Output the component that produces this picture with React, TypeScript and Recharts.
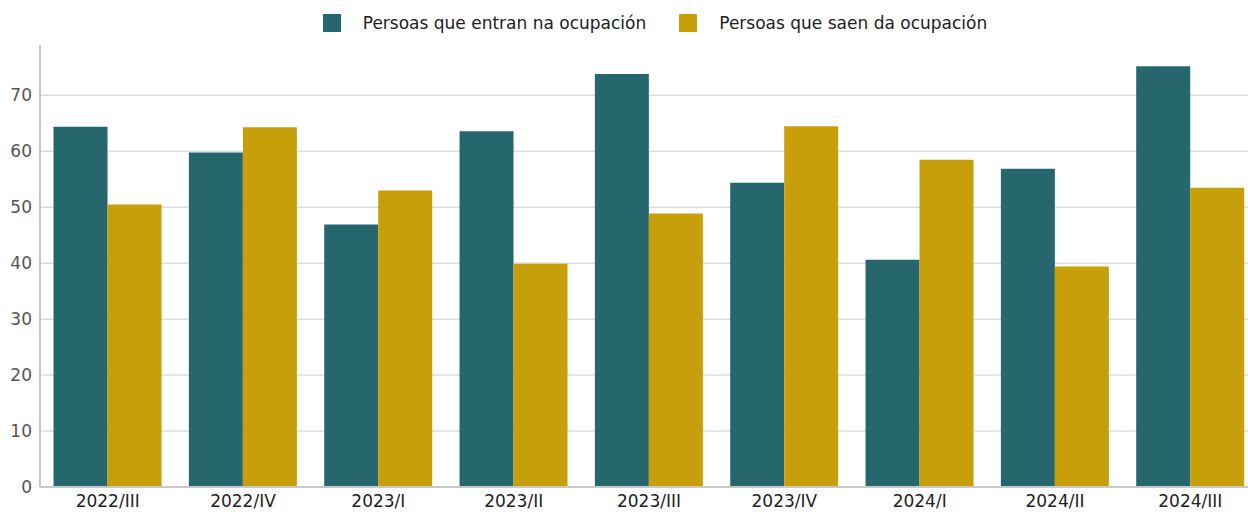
import React from "react";
import { BarChart, Bar, XAxis, YAxis, CartesianGrid, Legend } from "recharts";

const categories = ["2022/III", "2022/IV", "2023/I", "2023/II", "2023/III", "2023/IV", "2024/I", "2024/II", "2024/III"];
const entran = [64.4, 59.8, 46.9, 63.6, 73.8, 54.4, 40.6, 56.9, 75.2];
const saen = [50.5, 64.3, 53.0, 39.9, 48.9, 64.5, 58.5, 39.4, 53.5];
const yTicks = [0, 10, 20, 30, 40, 50, 60, 70];
const gridValues = [10, 20, 30, 40, 50, 60, 70];
const seriesNames = ["Persoas que entran na ocupación", "Persoas que saen da ocupación"];
const colors = ["#26676D", "#C69F0B"];

const data = categories.map((c, i) => ({ name: c, entran: entran[i], saen: saen[i] }));

const LegendContent = () => (
  <div
    style={{
      display: "flex",
      justifyContent: "center",
      alignItems: "center",
      paddingLeft: 44,
      fontFamily: "DejaVu Sans",
      fontSize: 17,
      color: "#222",
      height: 30,
    }}
  >
    {seriesNames.map((n, i) => (
      <div key={n} style={{ display: "flex", alignItems: "center", marginRight: i === 0 ? 33 : 0 }}>
        <div style={{ width: 18, height: 18, background: colors[i], marginRight: 22 }} />
        <span>{n}</span>
      </div>
    ))}
  </div>
);

export default function App() {
  return (
    <div
      style={{
        position: "fixed",
        top: 0,
        left: 0,
        width: 1248,
        height: 512,
        overflow: "hidden",
        background: "#fff",
      }}
    >
      <div style={{ position: "absolute", top: 8, left: 8 }}>
        <BarChart
          width={1250}
          height={504}
          data={data}
          margin={{ top: 0, right: 0, bottom: 0, left: 0 }}
          barCategoryGap="10%"
          barGap={0}
          style={{ fontFamily: "DejaVu Sans" }}
        >
          <Legend verticalAlign="top" height={37} content={<LegendContent />} wrapperStyle={{ top: 0 }} />
          <CartesianGrid vertical={false} horizontalValues={gridValues} stroke="#dddddd" strokeWidth={1.5} />
          <XAxis
            dataKey="name"
            height={25}
            tickLine={false}
            axisLine={{ stroke: "#c8c8c8", strokeWidth: 2 }}
            tick={{ fill: "#222", fontSize: 17 }}
            interval={0}
          />
          <YAxis
            width={32}
            domain={[0, 79]}
            ticks={yTicks}
            tickLine={false}
            axisLine={{ stroke: "#c8c8c8", strokeWidth: 2 }}
            tick={{ fill: "#555", fontSize: 17 }}
            tickMargin={2}
            interval={0}
          />
          <Bar dataKey="entran" name={seriesNames[0]} fill={colors[0]} isAnimationActive={false} />
          <Bar dataKey="saen" name={seriesNames[1]} fill={colors[1]} isAnimationActive={false} />
        </BarChart>
      </div>
    </div>
  );
}
